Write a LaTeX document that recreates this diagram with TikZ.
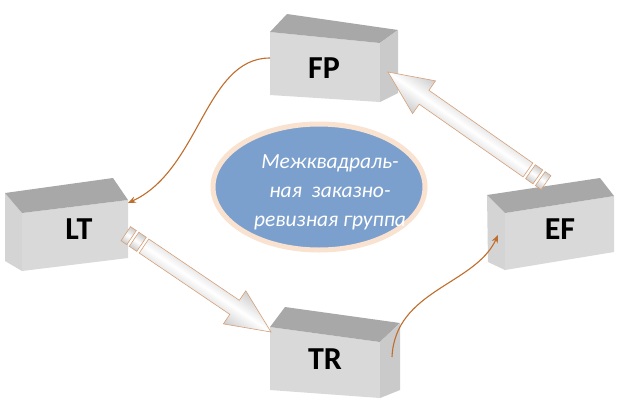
\documentclass[tikz,border=0pt]{standalone}
\usepackage{fontspec}
\setmainfont{Carlito}
\usetikzlibrary{arrows.meta,shapes.geometric}
\definecolor{boxfront}{RGB}{217,217,217}
\definecolor{boxtop}{RGB}{168,168,168}
\definecolor{boxside}{RGB}{202,202,202}
\definecolor{boxleft}{RGB}{212,212,212}
\definecolor{ellfill}{RGB}{124,160,206}
\definecolor{ellrim}{RGB}{250,226,208}
\definecolor{brownline}{RGB}{192,110,44}
\definecolor{arrowrim}{RGB}{214,160,120}
\tikzset{
  blockarrow/.style={draw=arrowrim, line width=0.6pt, top color=gray!40, bottom color=gray!40, middle color=white},
  boxlabel/.style={font=\bfseries\fontsize{32}{32}\selectfont, text=black, inner sep=0pt},
  brownarrow/.style={draw=brownline, line width=1.1pt, -{Stealth[length=8pt,width=6.5pt]}},
}
\newcommand\myblockarrow[2]{%
  \pgfmathanglebetweenpoints{\pgfpointanchor{#1}{center}}{\pgfpointanchor{#2}{center}}%
  \let\baang\pgfmathresult
  \pgfpointdiff{\pgfpointanchor{#1}{center}}{\pgfpointanchor{#2}{center}}%
  \pgfgetlastxy{\badx}{\bady}%
  \pgfmathveclen{\badx}{\bady}\let\balen\pgfmathresult
  \begin{scope}[transform canvas={shift={(#1)},rotate=\baang}]
    \shadedraw[blockarrow] (0,-8.5) -- (\balen-44,-8.5) -- (\balen-44,-20) -- (\balen,0) -- (\balen-44,20) -- (\balen-44,8.5) -- (0,8.5) -- cycle;
    \shadedraw[blockarrow] (-3,-8.5) rectangle (-12,8.5);
    \shadedraw[blockarrow] (-15,-8.5) rectangle (-22,8.5);
  \end{scope}}
\begin{document}
\begin{tikzpicture}[x=1pt,y=-1pt]
\useasboundingbox[fill=white] (0,0) rectangle (617,418);
% central ellipse
\node[ellipse, draw=ellrim, line width=5pt, fill=ellfill, minimum width=212pt, minimum height=126pt, inner sep=0pt] (hub) at (319,187) {};
\node[align=center, text=white, font=\itshape\fontsize{21.5}{29}\selectfont] (hubtext) at (330,192) {Межквадраль-\\ная~ заказно-\\ревизная группа};
% FP box
\fill[boxfront] (270,32) -- (380,43) -- (380,102) -- (270,95) -- cycle;
\fill[boxtop] (270,32) -- (287,14) -- (398,30) -- (380,43) -- cycle;
\fill[boxside] (380,43) -- (398,30) -- (398,93) -- (380,102) -- cycle;
\node[boxlabel] (fp) at (324,68) {FP};
% TR box
\fill[boxfront] (270,327) -- (380,342) -- (380,398) -- (270,390) -- cycle;
\fill[boxtop] (270,327) -- (285,307) -- (400,323) -- (380,342) -- cycle;
\fill[boxside] (380,342) -- (400,323) -- (400,390) -- (380,398) -- cycle;
\node[boxlabel] (tr) at (325,359) {TR};
% LT box
\fill[boxleft] (5,193) -- (22,213) -- (22,271) -- (5,261) -- cycle;
\fill[boxfront] (22,213) -- (128,200) -- (128,258) -- (22,271) -- cycle;
\fill[boxtop] (5,193) -- (113,178) -- (128,200) -- (22,213) -- cycle;
\node[boxlabel] (lt) at (79,229) {LT};
% EF box
\fill[boxleft] (487,195) -- (505,213) -- (505,270) -- (488,262) -- cycle;
\fill[boxfront] (505,213) -- (614,196) -- (614,252) -- (505,270) -- cycle;
\fill[boxtop] (487,195) -- (600,178) -- (614,196) -- (505,213) -- cycle;
\node[boxlabel] (ef) at (560,229) {EF};
% connector end points
\coordinate (fpL) at (270,58);
\coordinate (ltR) at (128,203);
\coordinate (trR) at (392,357);
\coordinate (efL) at (498,235);
\coordinate (efT) at (528,170);
\coordinate (fpR) at (388,72);
\coordinate (ltT) at (144,246);
\coordinate (trL) at (271,332);
% thin brown connectors
\draw[brownarrow] (fpL) .. controls (205,58) and (200,170) .. (ltR);
\draw[brownarrow] (trR) .. controls (395,290) and (475,285) .. (efL);
% block arrows
\myblockarrow{efT}{fpR}
\myblockarrow{ltT}{trL}
\end{tikzpicture}
\end{document}
